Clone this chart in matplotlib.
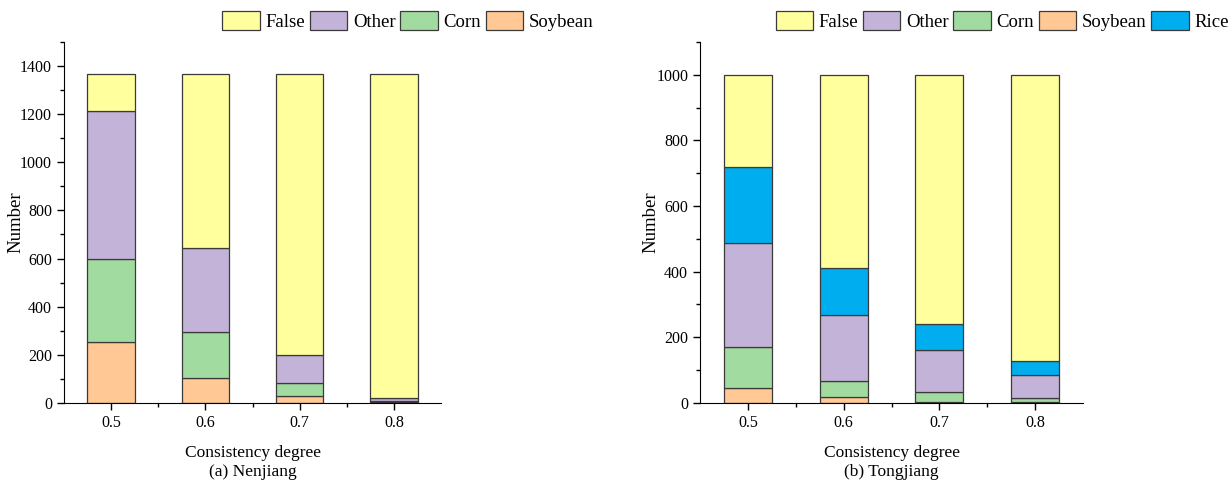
import matplotlib
matplotlib.use("Agg")
import matplotlib.pyplot as plt
from matplotlib.ticker import MultipleLocator

plt.rcParams['font.family'] = ['Liberation Serif', 'DejaVu Serif']

degrees = [0.5, 0.6, 0.7, 0.8]

# Nenjiang
nj_soybean = [255, 105, 30, 3]
nj_corn = [345, 188, 53, 5]
nj_other = [612, 350, 117, 12]
nj_false = [156, 725, 1168, 1348]

# Tongjiang
tj_soybean = [47, 17, 3, 2]
tj_corn = [125, 50, 30, 14]
tj_other = [315, 200, 127, 69]
tj_rice = [233, 143, 82, 42]
tj_false = [280, 590, 758, 873]

colors = {
    "False": "#FFFF9E",
    "Other": "#C4B3D8",
    "Corn": "#A2DBA0",
    "Soybean": "#FFC895",
    "Rice": "#00AEEF",
}

edge = "#3a3a3a"


def stacked(ax, series, ymax, major, minor):
    bottom = [0] * len(degrees)
    handles = {}
    for name, values in series:
        bars = ax.bar(degrees, values, width=0.05, bottom=bottom,
                      color=colors[name], edgecolor=edge, linewidth=0.9)
        handles[name] = bars
        bottom = [b + v for b, v in zip(bottom, values)]
    ax.set_xlim(0.45, 0.85)
    ax.set_ylim(0, ymax)
    ax.set_xticks(degrees)
    ax.set_xticklabels([str(d) for d in degrees])
    ax.set_xticks([0.55, 0.65, 0.75], minor=True)
    ax.yaxis.set_major_locator(MultipleLocator(major))
    ax.yaxis.set_minor_locator(MultipleLocator(minor))
    ax.spines['top'].set_visible(False)
    ax.spines['right'].set_visible(False)
    ax.tick_params(which='major', length=5, width=1, labelsize=11.5)
    ax.tick_params(which='minor', length=3, width=1)
    ax.set_ylabel("Number", fontsize=13.5)
    ax.yaxis.set_label_coords(-0.105, 0.5)
    ax.set_xlabel("Consistency degree", fontsize=12.5, labelpad=10)
    return handles


fig = plt.figure(figsize=(12.29, 4.82), dpi=100)
ax1 = fig.add_axes([0.052, 0.164, 0.307, 0.749])
ax2 = fig.add_axes([0.5696, 0.164, 0.3116, 0.749])

h1 = stacked(ax1, [("Soybean", nj_soybean), ("Corn", nj_corn),
                   ("Other", nj_other), ("False", nj_false)], 1500, 200, 100)
h2 = stacked(ax2, [("Soybean", tj_soybean), ("Corn", tj_corn),
                   ("Other", tj_other), ("Rice", tj_rice),
                   ("False", tj_false)], 1100, 200, 100)

order1 = ["False", "Other", "Corn", "Soybean"]
order2 = ["False", "Other", "Corn", "Soybean", "Rice"]
legend_kw = dict(loc='upper right', ncol=5, frameon=False, fontsize=13.5,
                 handlelength=2.0, handleheight=1.2, handletextpad=0.3,
                 columnspacing=0.25, borderaxespad=0, borderpad=0)
fig.legend([h1[n] for n in order1], order1,
           bbox_to_anchor=(0.483, 0.977), **legend_kw)
fig.legend([h2[n] for n in order2], order2,
           bbox_to_anchor=(1.0, 0.977), **legend_kw)

fig.text(0.052 + 0.307 / 2, 0.004, "(a) Nenjiang", ha='center', va='bottom',
         fontsize=12.5)
fig.text(0.5696 + 0.3116 / 2, 0.004, "(b) Tongjiang", ha='center', va='bottom',
         fontsize=12.5)

plt.savefig("out.png", dpi=100)
plt.close()
